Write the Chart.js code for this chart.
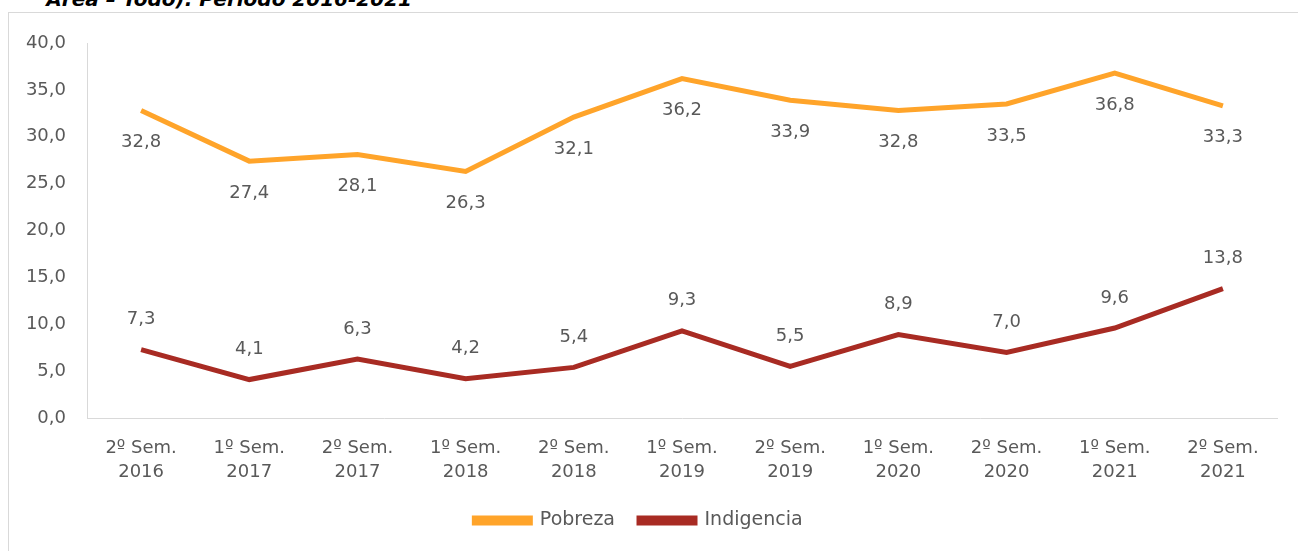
<!DOCTYPE html>
<html>
<head>
<meta charset="utf-8">
<script src="https://cdn.jsdelivr.net/npm/chart.js@4/dist/chart.umd.min.js"></script>
<style>
  html, body { margin: 0; padding: 0; background: #fff; overflow: hidden; }
  body { width: 1298px; height: 551px; position: relative; font-family: "DejaVu Sans", sans-serif; }
  #title { position: absolute; top: -13px; left: 0; width: 412px; text-align: right; white-space: nowrap;
           font: italic bold 20px "DejaVu Sans", sans-serif; color: #000; }
  #frame { position: absolute; left: 8px; top: 12px; width: 1400px; height: 600px; border: 1px solid #d9d9d9; }
  #wrap { position: absolute; left: 0; top: 0; width: 1298px; height: 551px; }
</style>
</head>
<body>
<div id="title">Área – Todo). Período 2016-2021</div>
<div id="frame"></div>
<div id="wrap"><canvas id="povChart" width="1298" height="551"></canvas></div>
<script>
const labels = [
  ['2º Sem.', '2016'], ['1º Sem.', '2017'], ['2º Sem.', '2017'], ['1º Sem.', '2018'],
  ['2º Sem.', '2018'], ['1º Sem.', '2019'], ['2º Sem.', '2019'], ['1º Sem.', '2020'],
  ['2º Sem.', '2020'], ['1º Sem.', '2021'], ['2º Sem.', '2021']
]
const pobreza = [32.8, 27.4, 28.1, 26.3, 32.1, 36.2, 33.9, 32.8, 33.5, 36.8, 33.3]
const indigencia = [7.3, 4.1, 6.3, 4.2, 5.4, 9.3, 5.5, 8.9, 7.0, 9.6, 13.8]

const grey = '#595959'
const family = '"DejaVu Sans", sans-serif'
const fmt = v => Number(v).toFixed(1).replace('.', ',')

// draws the value labels (no datalabels plugin available)
const valueLabels = {
  id: 'valueLabels',
  afterDatasetsDraw(chart) {
    const ctx = chart.ctx
    ctx.save()
    ctx.font = '18px ' + family
    ctx.fillStyle = grey
    ctx.textAlign = 'center'
    ctx.textBaseline = 'middle'
    chart.data.datasets.forEach((ds, i) => {
      const meta = chart.getDatasetMeta(i)
      meta.data.forEach((pt, j) => {
        ctx.fillText(fmt(ds.data[j]), pt.x, pt.y + ds.labelOffset)
      })
    })
    ctx.restore()
  }
}

const myChart = new Chart(
  document.getElementById('povChart'),
  {
    type: 'line',
    data: {
      labels: labels,
      datasets: [
        {
          label: 'Pobreza',
          data: pobreza,
          borderColor: '#FFA42A',
          backgroundColor: '#FFA42A',
          borderWidth: 5,
          pointRadius: 0,
          tension: 0,
          labelOffset: 32
        },
        {
          label: 'Indigencia',
          data: indigencia,
          borderColor: '#A82B23',
          backgroundColor: '#A82B23',
          borderWidth: 5,
          pointRadius: 0,
          tension: 0,
          labelOffset: -30
        }
      ]
    },
    options: {
      responsive: false,
      animation: false,
      maintainAspectRatio: false,
      layout: { padding: { top: 43, right: 21, left: 0, bottom: 11 } },
      plugins: {
        tooltip: { enabled: false },
        legend: {
          position: 'bottom',
          labels: {
            color: grey,
            font: { size: 19, family: family },
            boxWidth: 56,
            boxHeight: 5,
            padding: 24
          }
        }
      },
      scales: {
        x: {
          offset: true,
          grid: { display: false },
          border: { display: true, color: '#d9d9d9', width: 1 },
          ticks: {
            color: grey,
            font: { size: 18, family: family, lineHeight: 1.35 },
            padding: 10,
            maxRotation: 0
          },
          afterFit(scale) { scale.height = 69 }
        },
        y: {
          min: 0,
          max: 40,
          grid: { display: false },
          border: { display: true, color: '#d9d9d9', width: 1 },
          ticks: {
            stepSize: 5,
            color: grey,
            font: { size: 18, family: family },
            padding: 13,
            callback: v => fmt(v)
          },
          afterFit(scale) { scale.width = 87 }
        }
      }
    },
    plugins: [valueLabels]
  }
)
</script>
</body>
</html>
